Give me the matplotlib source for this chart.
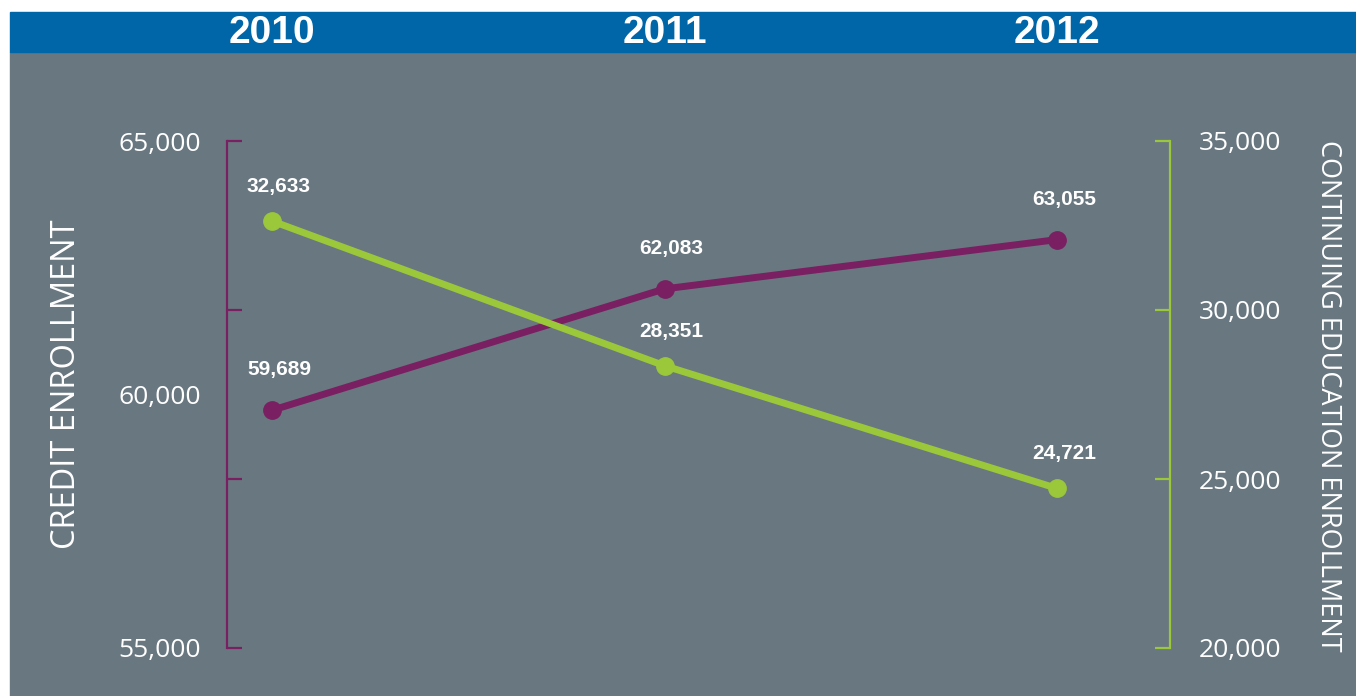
import matplotlib.pyplot as plt
from matplotlib.patches import Rectangle
from matplotlib.ticker import FixedLocator
from matplotlib.transforms import blended_transform_factory

# --- data ---
years = [2010, 2011, 2012]
credit = [59689, 62083, 63055]
continuing = [32633, 28351, 24721]

credit_ticks = [55000, 58333.33, 61666.67, 65000]
credit_tick_labels = ['55,000', '', '', '65,000']
credit_mid_label = 60000
cont_ticks = [20000, 25000, 30000, 35000]
cont_tick_labels = ['20,000', '25,000', '30,000', '35,000']

# --- colours ---
BLUE = '#0066a8'
GREY = '#697780'
PURPLE = '#7a1f62'
GREEN = '#9bc73a'

W, H = 1356, 696
fig = plt.figure(figsize=(W / 100, H / 100), dpi=100)
fig.patch.set_facecolor('white')

# background panels
fig.patches.append(Rectangle((10 / W, 0), 1 - 10 / W, 644 / H,
                             transform=fig.transFigure, color=GREY, zorder=-2))
fig.patches.append(Rectangle((10 / W, 1 - 52 / H), 1 - 10 / W, 40 / H,
                             transform=fig.transFigure, color=BLUE, zorder=-2))

ax = fig.add_axes([227 / W, 1 - 648 / H, 943 / W, 507 / H])
ax.set_facecolor('none')
ax2 = ax.twinx()
ax2.set_facecolor('none')

ax.set_xlim(2010 - 45 / 392.5, 2012 + 113 / 392.5)
ax.set_ylim(55000, 65000)
ax2.set_ylim(20000, 35000)

for a in (ax, ax2):
    a.spines['top'].set_visible(False)
    a.spines['bottom'].set_visible(False)
    a.set_xticks([])
ax.spines['right'].set_visible(False)
ax2.spines['left'].set_visible(False)
ax.spines['left'].set_color(PURPLE)
ax.spines['left'].set_linewidth(1.6)
ax2.spines['right'].set_color(GREEN)
ax2.spines['right'].set_linewidth(1.6)

tick_font = dict(family='Open Sans', size=19, color='white')

ax.yaxis.set_major_locator(FixedLocator(credit_ticks))
ax.set_yticklabels(credit_tick_labels, **tick_font)
ax.yaxis.set_minor_locator(FixedLocator([credit_mid_label]))
ax.set_yticklabels(['60,000'], minor=True, **tick_font)
ax.tick_params(axis='y', which='major', direction='in', length=11, width=1.6,
               color=PURPLE, pad=19)
ax.tick_params(axis='y', which='minor', length=0, pad=19)

ax2.set_yticks(cont_ticks)
ax2.set_yticklabels(cont_tick_labels, **tick_font)
ax2.tick_params(axis='y', direction='in', length=11, width=1.6,
                color=GREEN, pad=21)

# series
ax.plot(years, credit, color=PURPLE, lw=5, marker='o', ms=12.5,
        clip_on=False, zorder=3)
ax2.plot(years, continuing, color=GREEN, lw=5, marker='o', ms=12.5,
         clip_on=False, zorder=3)

for x, v in zip(years, credit):
    ax.annotate(f'{v:,}', (x, v), xytext=(5, 29), textcoords='offset points',
                ha='center', va='center', color='white', fontsize=15,
                fontweight='bold', family='Liberation Sans')
for x, v in zip(years, continuing):
    ax2.annotate(f'{v:,}', (x, v), xytext=(5, 25), textcoords='offset points',
                 ha='center', va='center', color='white', fontsize=15,
                 fontweight='bold', family='Liberation Sans')

# year header
header_tr = blended_transform_factory(ax.transData, fig.transFigure)
for x in years:
    ax.text(x, 1 - 33 / H, str(x), transform=header_tr, ha='center', va='center',
            color='white', fontsize=28, fontweight='bold', family='Liberation Sans',
            clip_on=False)

# axis titles
fig.text(67 / W, 1 - 384 / H, 'CREDIT ENROLLMENT', rotation=90,
         ha='center', va='center', color='white', fontsize=23.5, family='Open Sans')
fig.text(1328 / W, 1 - 396 / H, 'CONTINUING EDUCATION ENROLLMENT', rotation=-90,
         ha='center', va='center', color='white', fontsize=19.5, family='Open Sans')

fig.savefig('out.png', dpi=100)
